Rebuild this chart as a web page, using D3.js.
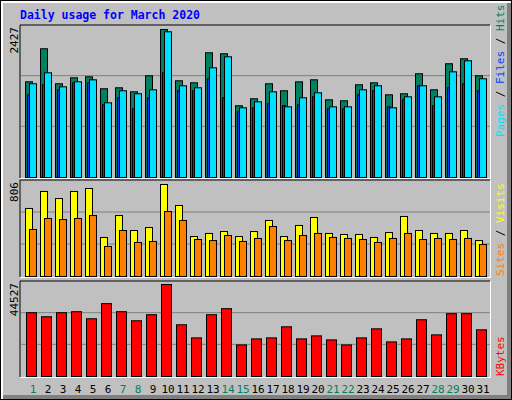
<!DOCTYPE html>
<html>
<head>
<meta charset="utf-8">
<script src="https://cdn.jsdelivr.net/npm/d3@7"></script>
<style>
  body { margin: 0; background: #fff; }
  text { font-family: "DejaVu Sans Mono", monospace; }
</style>
</head>
<body>
<div id="chart"></div>
<script>
const width = 512,
  height = 400;

const days = d3.range(1, 32);
const weekends = [1, 7, 8, 14, 15, 21, 22, 28, 29];
const hits = [1569, 2111, 1537, 1635, 1651, 1455, 1471, 1405, 1668, 2427, 1586, 1553, 2045, 2029, 1176, 1291,
  1537, 1422, 1569, 1602, 1274, 1258, 1520, 1553, 1356, 1373, 1701, 1438, 1865, 1947, 1668];
const files = [1537, 1717, 1487, 1569, 1602, 1225, 1422, 1373, 1438, 2389, 1504, 1471, 1799, 1979, 1143, 1241,
  1405, 1159, 1307, 1389, 1159, 1159, 1438, 1504, 1143, 1323, 1504, 1323, 1733, 1914, 1619];
const pages = [1356, 1520, 1438, 1553, 1553, 1192, 1307, 1127, 1307, 1717, 1422, 1422, 1619, 1307, 1077, 1143,
  1209, 1176, 1192, 1323, 1127, 1127, 1356, 1422, 1159, 1274, 1504, 1176, 1471, 1537, 1422];
const visits = [596, 745, 683, 745, 771, 342, 534, 403, 429, 806, 622, 350, 377, 394, 350, 394,
  491, 350, 447, 517, 377, 368, 368, 342, 385, 526, 403, 377, 377, 403, 315];
const sites = [412, 508, 499, 508, 534, 263, 403, 298, 307, 569, 491, 324, 315, 359, 307, 333,
  438, 315, 359, 377, 342, 333, 324, 298, 333, 377, 324, 333, 324, 333, 280];
const kbytes = [30875, 28925, 30875, 31363, 27950, 35263, 31363, 26975, 29900, 44527, 25025, 18688, 29900, 32825,
  15275, 18200, 18688, 24050, 18200, 19663, 17713, 15275, 18688, 23075, 16738, 18200, 27463, 20150, 30388, 30388, 22588];

const svg = d3.select("#chart").append("svg").attr("width", width).attr("height", height);

// frame
svg.append("rect").attr("width", width).attr("height", height).attr("fill", "#000");
svg.append("rect").attr("x", 1).attr("y", 1).attr("width", width - 2).attr("height", height - 2).attr("fill", "#fff");
svg.append("rect").attr("x", 3).attr("y", 3).attr("width", width - 4).attr("height", height - 4).attr("fill", "#808080");
svg.append("rect").attr("x", 3).attr("y", 3).attr("width", width - 8).attr("height", height - 8).attr("fill", "#c0c0c0");

svg.append("text").attr("x", 20).attr("y", 19).attr("fill", "#0000ff")
  .attr("font-size", 11.5).attr("font-weight", "bold").text("Daily usage for March 2020");

const x = d3.scaleLinear().domain([1, 31]).range([25, 475]);

function panel(y0, y1, max, maxTop) {
  const y = d3.scaleLinear().domain([0, max]).range([y1, maxTop]);
  const g = svg.append("g");
  g.append("line").attr("x1", 20).attr("x2", 490).attr("y1", y0).attr("y2", y0).attr("stroke", "#000");
  g.append("line").attr("x1", 20).attr("x2", 20).attr("y1", y0).attr("y2", y1 + 1).attr("stroke", "#000");
  g.append("line").attr("x1", 20).attr("x2", 491).attr("y1", y1 + 1.5).attr("y2", y1 + 1.5).attr("stroke", "#fff");
  g.append("line").attr("x1", 490.5).attr("x2", 490.5).attr("y1", y0).attr("y2", y1 + 2).attr("stroke", "#fff");
  const step = (y1 - y0) / 3;
  [1, 2].forEach(i => {
    g.append("line").attr("x1", 21).attr("x2", 490).attr("y1", y1 - i * step).attr("y2", y1 - i * step)
      .attr("stroke", "#808080");
  });
  g.append("text").attr("transform", `translate(18,${y0 + 2}) rotate(-90)`).attr("text-anchor", "end")
    .attr("font-size", 11).attr("fill", "#000").text(max);
  return { g, y };
}

function bars(p, data, color, dx, w) {
  p.g.selectAll(null).data(data).enter().append("rect")
    .attr("x", (d, i) => x(days[i]) + dx + 0.5)
    .attr("y", d => p.y(d) + 0.5)
    .attr("width", w)
    .attr("height", d => p.y(0) - p.y(d))
    .attr("fill", color).attr("stroke", "#000");
}

const upper = panel(25, 177, 2427, 29);
bars(upper, hits, "#008060", 0, 7);
bars(upper, pages, "#0040ff", 2, 3);
bars(upper, files, "#00e0ff", 4, 7);

const middle = panel(180, 276, 806, 184);
bars(middle, visits, "#ffff00", 0, 7);
bars(middle, sites, "#ff8000", 4, 7);

const lower = panel(281, 376, 44527, 284);
bars(lower, kbytes, "#ff0000", 1, 10);

svg.selectAll(".day").data(days).enter().append("text")
  .attr("x", d => x(d) + 8).attr("y", 393).attr("text-anchor", "middle")
  .attr("font-size", 11)
  .attr("fill", d => weekends.includes(d) ? "#008060" : "#000")
  .text(d => d);

function sideLabel(y, parts) {
  const t = svg.append("text").attr("transform", `translate(504,${y}) rotate(-90)`).attr("font-size", 11);
  parts.forEach(([s, c]) => t.append("tspan").attr("fill", c).text(s));
}
sideLabel(137, [["Pages", "#00e0ff"], [" / ", "#000"], ["Files", "#0040ff"], [" / ", "#000"], ["Hits", "#008060"]]);
sideLabel(276, [["Sites", "#ff8000"], [" / ", "#000"], ["Visits", "#ffff00"]]);
sideLabel(376, [["KBytes", "#ff0000"]]);
</script>
</body>
</html>
